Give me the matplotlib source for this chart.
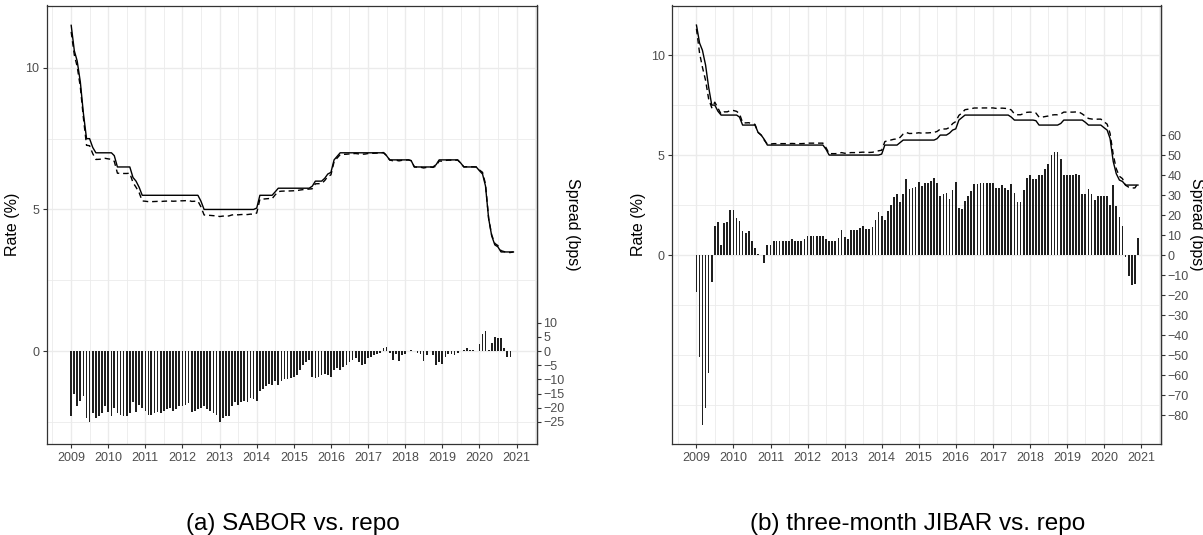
import matplotlib
matplotlib.use("Agg")
import matplotlib.pyplot as plt
import matplotlib.dates as mdates
from matplotlib.ticker import FixedLocator
import numpy as np
import pandas as pd

plt.rcParams['font.family'] = ['Liberation Sans', 'DejaVu Sans']

# --- DATA (monthly, Jan 2009 .. Dec 2020) ---
months = pd.date_range("2009-01-01", "2020-12-01", freq="MS")

# repo rate, monthly average (%)
repo = [
    11.50, 10.60, 10.24, 9.50, 8.40, 7.50, 7.50, 7.19, 7.00, 7.00, 7.00, 7.00,   # 2009
    7.00, 7.00, 6.90, 6.50, 6.50, 6.50, 6.50, 6.50, 6.13, 6.00, 5.78, 5.50,      # 2010
    5.50, 5.50, 5.50, 5.50, 5.50, 5.50, 5.50, 5.50, 5.50, 5.50, 5.50, 5.50,      # 2011
    5.50, 5.50, 5.50, 5.50, 5.50, 5.50, 5.29, 5.00, 5.00, 5.00, 5.00, 5.00,      # 2012
    5.00, 5.00, 5.00, 5.00, 5.00, 5.00, 5.00, 5.00, 5.00, 5.00, 5.00, 5.00,      # 2013
    5.05, 5.50, 5.50, 5.50, 5.50, 5.50, 5.62, 5.75, 5.75, 5.75, 5.75, 5.75,      # 2014
    5.75, 5.75, 5.75, 5.75, 5.75, 5.75, 5.82, 6.00, 6.00, 6.00, 6.10, 6.25,      # 2015
    6.31, 6.75, 6.87, 7.00, 7.00, 7.00, 7.00, 7.00, 7.00, 7.00, 7.00, 7.00,      # 2016
    7.00, 7.00, 7.00, 7.00, 7.00, 7.00, 6.90, 6.75, 6.75, 6.75, 6.75, 6.75,      # 2017
    6.75, 6.75, 6.72, 6.50, 6.50, 6.50, 6.50, 6.50, 6.50, 6.50, 6.58, 6.75,      # 2018
    6.75, 6.75, 6.75, 6.75, 6.75, 6.75, 6.64, 6.50, 6.50, 6.50, 6.50, 6.50,      # 2019
    6.37, 6.25, 5.83, 4.68, 4.07, 3.75, 3.68, 3.50, 3.50, 3.50, 3.50, 3.50,      # 2020
]

# SABOR minus repo (bps)
sabor_spread = [
    -23, -15, -19.5, -17.5, -16, -23.5, -25, -22, -23.5, -23, -22, -19.5,
    -21.5, -23, -20, -22, -22.5, -23, -23, -22, -18, -21.5, -19, -20,
    -21, -22.5, -22.5, -22, -21.5, -22, -21, -20.5, -20, -21, -20.5, -19.5,
    -19.5, -19, -18.5, -21.5, -21, -20.5, -20, -19.5, -20.5, -21, -22, -22.5,
    -25, -23.5, -23, -23, -19.5, -18, -19, -18, -17.5, -18, -16.5, -17,
    -17.5, -14, -13.5, -12.5, -11.5, -12, -10.5, -12, -10.5, -10, -10, -9.5,
    -9, -8.5, -6.5, -5, -4, -3, -9, -9.5, -9, -8.5, -8, -8.5,
    -9, -6.5, -6, -6.5, -5.5, -5, -4, -3, -2.5, -4, -5, -4.5,
    -2.5, -2, -1.5, -1, -0.5, 1, 1.5, -0.5, -3, -1, -3.5, -1.5,
    -1, 0, 0.5, 0, -0.5, -1, -3.5, -1.5, 0, -1.5, -5, -4,
    -4.5, -2, -1, -1, -1.5, -0.5, 0, 0.3, 1, 0.5, 0.5, 0,
    2.5, 6, 7, 0.5, 3, 5, 4.5, 4.5, 1, -2, -2, 0,
]

# three-month JIBAR minus repo (bps)
jibar_spread = [
    -18.5, -50.8, -84.9, -76.5, -58.8, -13.4, 14.6, 16.3, 5, 16, 16.3, 22.7,
    22.7, 18.5, 17.1, 12.1, 10.9, 11.8, 7.1, 3.4, 0.3, 0, -3.9, 5,
    5, 7.2, 7.2, 7.2, 7.2, 7.2, 7.2, 8, 7.2, 7.2, 7.2, 8,
    9.6, 9.7, 9.7, 9.7, 9.7, 9.7, 7.9, 7.1, 7.1, 7.1, 8.4, 12.3,
    9.2, 8, 12.3, 12.3, 12.3, 13.4, 14.6, 13.1, 13.1, 13.9, 17.6, 21.3,
    19.3, 17.3, 21.8, 25.2, 29.1, 30.6, 26.4, 30.3, 37.8, 32.8, 33.3, 34.1,
    36.5, 34.5, 35.8, 35.8, 37, 38.3, 36.1, 29.7, 30.3, 30.8, 28.2, 32.4,
    36.5, 23.5, 23, 26.9, 29.4, 31.9, 35.3, 35.3, 35.8, 35.8, 35.8, 35.8,
    35.8, 33.6, 33.6, 34.8, 33.6, 32.3, 35.6, 31, 26.7, 26.7, 32.4, 38.7,
    39.8, 38.2, 38.2, 39.8, 39.8, 42.9, 45.4, 49.9, 51.6, 51.6, 47.9, 39.8,
    39.8, 39.8, 39.8, 40.7, 39.8, 30.6, 30.6, 33.1, 30.6, 27.7, 29.7, 29.7,
    29.7, 29.7, 25.2, 34.8, 24.7, 18.8, 14.3, -1, -10.6, -14.8, -14.3, 8.7,
]

sabor_ticks = [-25, -20, -15, -10, -5, 0, 5, 10]
jibar_ticks = [-80, -70, -60, -50, -40, -30, -20, -10, 0, 10, 20, 30, 40, 50, 60]

GRID = '#EBEBEB'
DARK = '#333333'
TXT = '#4D4D4D'

fig = plt.figure(figsize=(12.03, 5.35), dpi=100)
W, H = 1203, 535


def panel(left_px, right_px, spread, ylim, sec_ticks, caption, cap_x):
    ax = fig.add_axes([left_px / W, 1 - 444 / H, (right_px - left_px) / W, 438.5 / H])
    rate = np.array(repo)
    other = rate + np.array(spread) / 100.0

    # spread bars drawn on the rate scale (10 bps = 1 unit)
    ax.bar(months, np.array(spread) / 10.0, width=17, color='#1f1f1f', zorder=2)
    ax.plot(months, rate, color='black', lw=1.0, zorder=3)
    ax.plot(months, other, color='black', lw=1.0, ls=(0, (4, 2.8)), zorder=3)

    ax.set_xlim(pd.Timestamp("2008-05-08"), pd.Timestamp("2021-07-16"))
    ax.set_ylim(*ylim)
    ax.xaxis.set_major_locator(mdates.YearLocator())
    ax.xaxis.set_major_formatter(mdates.DateFormatter('%Y'))
    ax.xaxis.set_minor_locator(mdates.MonthLocator(bymonth=7))
    ax.set_yticks([0, 5, 10])
    ax.yaxis.set_minor_locator(FixedLocator([-7.5, -5, -2.5, 2.5, 7.5, 12.5]))

    ax.set_axisbelow(True)
    ax.grid(which='major', color=GRID, lw=1.0)
    ax.grid(which='minor', color=GRID, lw=0.6)
    for s in ax.spines.values():
        s.set_color(DARK)
        s.set_linewidth(0.9)
    ax.tick_params(which='major', length=3.0, width=0.8, color=DARK,
                   labelcolor=TXT, labelsize=9, pad=2.5)
    ax.tick_params(which='minor', length=0)

    ax.set_ylabel('Rate (%)', fontsize=11.5, va='center')
    ax.yaxis.set_label_coords(-0.07, 0.5)

    sec = ax.secondary_yaxis('right', functions=(lambda r: r * 10, lambda s: s / 10))
    sec.set_yticks(sec_ticks)
    sec.tick_params(length=3.2, width=0.8, color=DARK, labelcolor=TXT,
                    labelsize=9, pad=1.5)
    sec.spines['right'].set_color(DARK)
    sec.spines['right'].set_linewidth(0.9)
    sec.set_ylabel('Spread (bps)', fontsize=11.5, rotation=-90, va='center')
    sec.yaxis.set_label_coords(1.0735, 0.5, transform=ax.transAxes)

    fig.text(cap_x / W, 1 - 530 / H, caption, ha='center', va='baseline',
             fontsize=17.5, color='black')
    return ax


panel(47, 536.5, sabor_spread, (-3.28, 12.2), sabor_ticks, '(a) SABOR vs. repo', 293)
panel(672.3, 1161, jibar_spread, (-9.45, 12.48), jibar_ticks,
      '(b) three-month JIBAR vs. repo', 918)

fig.savefig('out.png', dpi=100)
